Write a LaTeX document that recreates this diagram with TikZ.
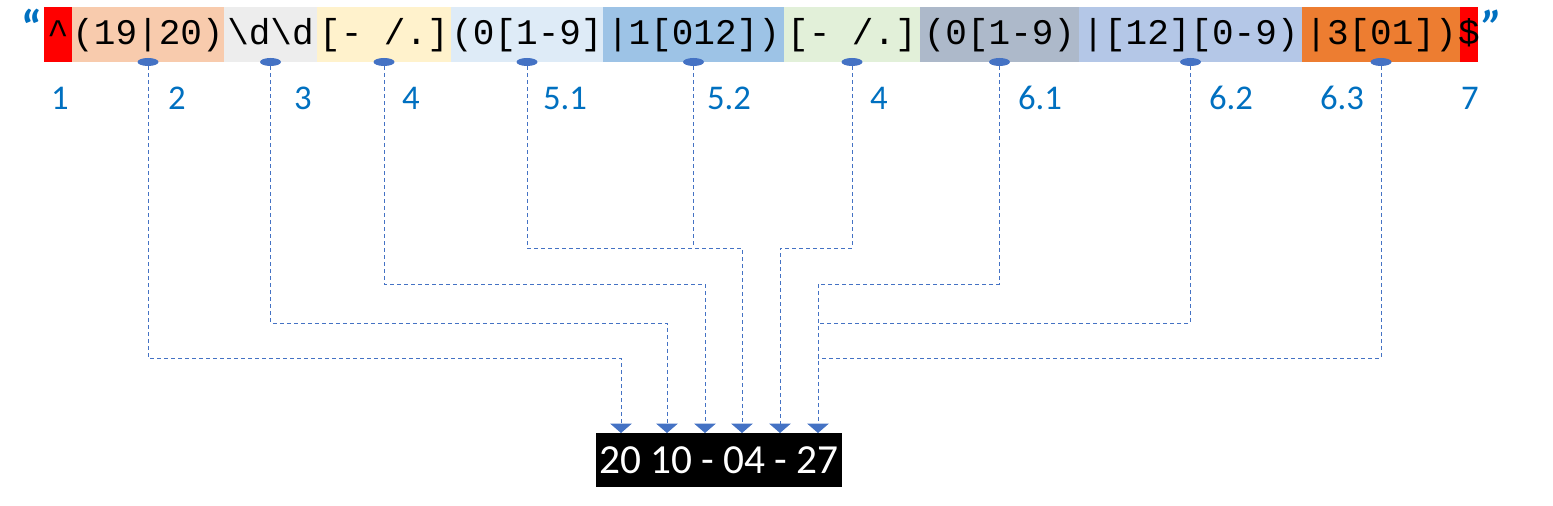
\documentclass[tikz,border=0pt]{standalone}
\usepackage{fontspec}
\setmainfont{Carlito}
\newfontfamily\codefont{Liberation Mono}
\usetikzlibrary{chains,positioning,shapes.geometric,arrows.meta}
\definecolor{anchred}{HTML}{FF0000}
\definecolor{yearpeach}{HTML}{F8CBAD}
\definecolor{digitgray}{HTML}{EDEDED}
\definecolor{sepyellow}{HTML}{FFF2CC}
\definecolor{monlight}{HTML}{DEEBF7}
\definecolor{monmid}{HTML}{9DC3E6}
\definecolor{sepgreen}{HTML}{E2F0D9}
\definecolor{dayslate}{HTML}{ADB9CA}
\definecolor{daylight}{HTML}{B4C7E7}
\definecolor{dayorange}{HTML}{ED7D31}
\definecolor{linkblue}{HTML}{4472C4}
\definecolor{numblue}{HTML}{0070C0}

\begin{document}
\begin{tikzpicture}
  [ x=0.75pt, y=-0.75pt,
    start chain=going right,
    node distance=0pt]
  \tikzset{
    seg/.style 2 args={
      on chain,
      fill=#2, inner sep=0pt, outer sep=0pt,
      minimum width=#1*0.75pt, minimum height=41.25pt,
      text height=20pt, text depth=4.25pt,
      font=\codefont\fontsize{27}{27}\selectfont,
    },
    dot/.style={
      ellipse, fill=linkblue, inner sep=0pt,
      minimum width=15.75pt, minimum height=6pt,
    },
    num/.style={
      text=numblue, inner sep=0pt,
      font=\fontsize{26}{26}\selectfont,
    },
    quote/.style={
      text=numblue, inner sep=0pt,
      font=\bfseries\fontsize{36}{36}\selectfont,
    },
    link/.style={
      draw=linkblue, line width=0.75pt, dash pattern=on 3pt off 2.25pt,
    },
    linkto/.style={
      link, -{Triangle[width=16pt,length=7pt]},
    },
  }
  \useasboundingbox (0,0) rectangle (1553,506);

  % the pattern
  \node[seg={28}{anchred}, anchor=west] (s1) at (44,34.5) {\textasciicircum};
  \node[seg={152}{yearpeach}]  (s2)  {(19|20)};
  \node[seg={93}{digitgray}]   (s3)  {\textbackslash d\textbackslash d};
  \node[seg={134}{sepyellow}]  (s4)  {[- /.]};
  \node[seg={152}{monlight}]   (s5)  {(0[1-9]};
  \node[seg={181}{monmid}]     (s6)  {|1[012])};
  \node[seg={136}{sepgreen}]   (s7)  {[- /.]};
  \node[seg={159}{dayslate}]   (s8)  {(0[1-9)};
  \node[seg={223}{daylight}]   (s9)  {|[12][0-9)};
  \node[seg={158}{dayorange}]  (s10) {|3[01])};
  \node[seg={18}{anchred}]     (s11) {\makebox[0pt]{\$}};

  \node[quote, anchor=base east] (qo) at ([xshift=-1pt]s1.base west) {“};
  \node[quote, anchor=base west] (qc) at ([xshift=3pt]s11.base east) {\itshape ”};

  \foreach \s/\m in {s2/m2, s3/m3, s4/m4, s5/m51, s6/m52, s7/m4b,
                     s8/m61, s9/m62, s10/m63}
    \node[dot] (\m) at (\s.south) {};

  \foreach \n/\x/\t in {l1/60/1, l2/177/2, l3/303/3, l4/411/4, l51/565/5.1,
                        l52/729/5.2, l4b/879/4, l61/1040/6.1, l62/1231/6.2,
                        l63/1342/6.3, l7/1470/7}
    \node[num] (\n) at (\x,98) {\t};

  % the match
  \node[fill=black, text=white, inner sep=0pt,
        minimum width=184.5pt, minimum height=40.5pt,
        font=\fontsize{31}{31}\selectfont] (date) at (719,460) {20 10 - 04 - 27};

  \foreach \x [count=\i] in {621,667,705,742,780,818}
    \coordinate (t\i) at (\x,433);
  \foreach \y [count=\i] in {248,284,323,358}
    \coordinate (h\i) at (0,\y);

  \foreach \m/\h/\t in {m2/h4/t1, m3/h3/t2, m4/h2/t3, m51/h1/t4,
                        m4b/h1/t5, m61/h2/t6}
    \draw[linkto] (\m.south) -- (\m |- \h) -| (\t);
  % joining the shared branches
  \draw[link] (m52.south) -- (m52 |- h1);
  \draw[link] (m62.south) |- (t6 |- h3);
  \draw[link] (m63.south) |- (t6 |- h4);
\end{tikzpicture}
\end{document}
